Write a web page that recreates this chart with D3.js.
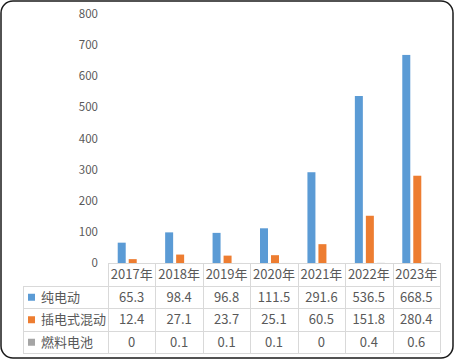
<!DOCTYPE html>
<html>
<head>
<meta charset="utf-8">
<script src="https://cdn.jsdelivr.net/npm/d3@7"></script>
<style>
  body { margin: 0; background: #fff; }
  text { font-family: "Microsoft YaHei", "Noto Sans CJK SC", sans-serif; fill: #595959; }
</style>
</head>
<body>
<div id="chart"></div>
<script>
// data
var years = ["2017年", "2018年", "2019年", "2020年", "2021年", "2022年", "2023年"];
var seriesNames = ["纯电动", "插电式混动", "燃料电池"];
var pureEV = [65.3, 98.4, 96.8, 111.5, 291.6, 536.5, 668.5];
var plugIn = [12.4, 27.1, 23.7, 25.1, 60.5, 151.8, 280.4];
var fuelCell = [0, 0.1, 0.1, 0.1, 0, 0.4, 0.6];
var yTicks = [0, 100, 200, 300, 400, 500, 600, 700, 800];

var colors = ["#5B9BD5", "#ED7D31", "#A5A5A5"];
var values = [pureEV, plugIn, fuelCell];

var width = 455, height = 360;
var tableLeft = 23, plotLeft = 108, plotRight = 440;
var axisY = 263, rowH = 22.5;

var svg = d3.select("#chart").append("svg")
    .attr("width", width)
    .attr("height", height);

// outer frame
svg.append("rect")
    .attr("x", 1).attr("y", 1)
    .attr("width", 452).attr("height", 357)
    .attr("rx", 12).attr("ry", 12)
    .attr("fill", "#fff")
    .attr("stroke", "#1a1a1a")
    .attr("stroke-width", 1.5);

var x = d3.scaleBand()
    .domain(years)
    .range([plotLeft, plotRight]);

var y = d3.scaleLinear()
    .domain([0, 800])
    .range([axisY, 14]);

var x1 = d3.scaleBand()
    .domain(seriesNames)
    .range([-15, 15])
    .paddingInner(0.273);

// y axis labels
svg.selectAll(".ytick")
    .data(yTicks)
    .enter()
    .append("text")
    .attr("class", "ytick")
    .attr("x", 98)
    .attr("y", function (d) { return y(d); })
    .attr("dy", "0.35em")
    .attr("text-anchor", "end")
    .attr("font-size", "11.5px")
    .text(function (d) { return d; });

// bars
var groups = svg.selectAll(".year")
    .data(years)
    .enter()
    .append("g")
    .attr("class", "year")
    .attr("transform", function (d) {
        return "translate(" + (x(d) + x.bandwidth() / 2 + 1) + ",0)";
    });

groups.selectAll("rect")
    .data(function (d, i) {
        return seriesNames.map(function (s, k) {
            return {name: s, value: values[k][i], k: k};
        });
    })
    .enter()
    .append("rect")
    .attr("x", function (d) { return x1(d.name); })
    .attr("width", x1.bandwidth())
    .attr("y", function (d) { return y(d.value); })
    .attr("height", function (d) { return axisY - y(d.value); })
    .attr("fill", function (d) { return colors[d.k]; });

// data table
var grid = svg.append("g")
    .attr("stroke", "#D9D9D9")
    .attr("stroke-width", 1)
    .attr("shape-rendering", "crispEdges");

grid.append("line")
    .attr("x1", plotLeft).attr("x2", plotRight)
    .attr("y1", axisY).attr("y2", axisY);

for (var r = 1; r <= 4; r++) {
    var ly = Math.round(axisY + rowH * r);
    grid.append("line")
        .attr("x1", tableLeft).attr("x2", plotRight)
        .attr("y1", ly).attr("y2", ly);
}

var bottom = Math.round(axisY + rowH * 4);
grid.append("line")
    .attr("x1", tableLeft).attr("x2", tableLeft)
    .attr("y1", Math.round(axisY + rowH)).attr("y2", bottom);

years.forEach(function (d) {
    grid.append("line")
        .attr("x1", Math.round(x(d))).attr("x2", Math.round(x(d)))
        .attr("y1", axisY).attr("y2", bottom);
});
grid.append("line")
    .attr("x1", plotRight).attr("x2", plotRight)
    .attr("y1", axisY).attr("y2", bottom);

// header
svg.selectAll(".yearlabel")
    .data(years)
    .enter()
    .append("text")
    .attr("class", "yearlabel")
    .attr("x", function (d) { return x(d) + x.bandwidth() / 2; })
    .attr("y", axisY + rowH / 2 + 0.5)
    .attr("dy", "0.35em")
    .attr("text-anchor", "middle")
    .attr("font-size", "13px")
    .text(function (d) { return d; });

// rows
seriesNames.forEach(function (s, k) {
    var cy = axisY + rowH * (k + 1) + rowH / 2 + 0.5;
    svg.append("rect")
        .attr("x", 28).attr("y", cy - 3.5)
        .attr("width", 7).attr("height", 7)
        .attr("fill", colors[k]);
    svg.append("text")
        .attr("x", 41)
        .attr("y", cy)
        .attr("dy", "0.35em")
        .attr("font-size", "13px")
        .text(s);
    svg.selectAll(".val" + k)
        .data(values[k])
        .enter()
        .append("text")
        .attr("class", "val" + k)
        .attr("x", function (d, i) { return x(years[i]) + x.bandwidth() / 2; })
        .attr("y", cy)
        .attr("dy", "0.35em")
        .attr("text-anchor", "middle")
        .attr("font-size", "13px")
        .text(function (d) { return d; });
});
</script>
</body>
</html>
